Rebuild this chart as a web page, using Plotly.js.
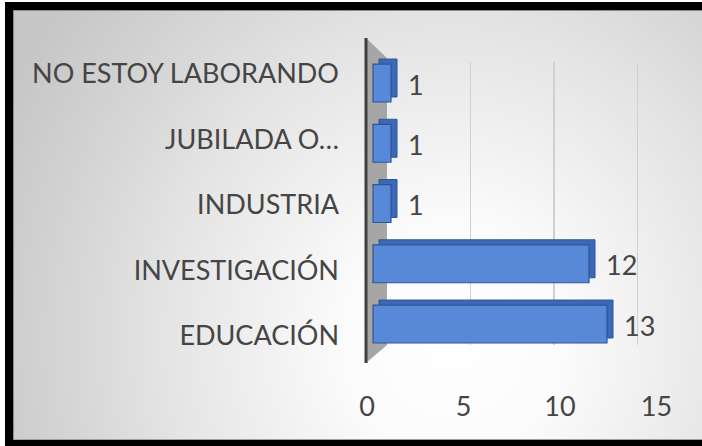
<!DOCTYPE html>
<html>
<head>
<meta charset="utf-8">
<script src="https://cdn.plot.ly/plotly-3.0.1.min.js"></script>
<style>
  html, body { margin: 0; padding: 0; background: #ffffff; overflow: hidden; }
  #frame {
    position: absolute; left: 5px; top: 2px; width: 720px; height: 446px;
    border: 8px solid #000000; box-sizing: border-box;
    background: radial-gradient(ellipse 500px 540px at 440px 330px, #ffffff 0%, #fbfbfb 22%, #e4e4e4 58%, #d2d2d2 82%, #c6c6c6 100%);
    box-shadow: inset 1px 1px 0 #8a8a8a, inset 0 -1px 0 #a0a0a0;
  }
  #chart { position: absolute; left: 0; top: 0; width: 702px; height: 446px; }
</style>
</head>
<body>
<div id="frame"></div>
<div id="chart"></div>
<script>
// ---- data ----
const categories = ['EDUCACIÓN', 'INVESTIGACIÓN', 'INDUSTRIA', 'JUBILADA O…', 'NO ESTOY LABORANDO'];
const values = [13, 12, 1, 1, 1];
const xTickValues = [0, 5, 10, 15];
const gridValues = [5, 10, 15];

const font = { family: 'Lato, "Open Sans", sans-serif', size: 27, color: '#454545', weight: 400 };
const hidden = { showgrid: false, zeroline: false, showline: false, showticklabels: false, ticks: '', fixedrange: true };

const depthTrace = {
  type: 'bar', orientation: 'h', x: values, y: categories,
  xaxis: 'x2', yaxis: 'y2', width: 0.63,
  marker: { color: '#3d68b5', line: { color: '#2f5597', width: 1 } },
  hoverinfo: 'skip', showlegend: false
};
const frontTrace = {
  type: 'bar', orientation: 'h', x: values, y: categories,
  xaxis: 'x3', yaxis: 'y3', width: 0.63,
  marker: { color: '#5888d8', line: { color: '#2f5597', width: 1.2 } },
  hoverinfo: 'skip', showlegend: false
};
const gridHolder = { type: 'scatter', mode: 'none', x: [], y: [], xaxis: 'x', yaxis: 'y', hoverinfo: 'skip', showlegend: false };
const labelHolder = { type: 'scatter', mode: 'none', x: [], y: [], xaxis: 'x4', yaxis: 'y', hoverinfo: 'skip', showlegend: false };

const annotations = categories.map((c, i) => ({
  x: values[i], y: c, xref: 'x3', yref: 'y3',
  text: String(values[i]), showarrow: false,
  xanchor: 'left', yanchor: 'middle', xshift: 15, yshift: -1,
  font: font
}));

const layout = {
  width: 702, height: 446, autosize: false,
  margin: { l: 360, r: 32, t: 38, b: 76, pad: 0 },
  paper_bgcolor: 'rgba(0,0,0,0)', plot_bgcolor: 'rgba(0,0,0,0)',
  font: font,
  showlegend: false,
  xaxis: Object.assign({}, hidden, {
    domain: [0, 1], anchor: 'y', range: [-1.617, 16.946],
    tickvals: gridValues, showgrid: true, gridcolor: '#d0d0d0', gridwidth: 1.2
  }),
  yaxis: Object.assign({}, hidden, {
    domain: [0.0753, 0.9277], anchor: 'x', range: [-0.137, 4.183],
    tickvals: [0, 1, 2, 3, 4], ticktext: categories, showticklabels: true,
    ticklabelstandoff: 20, tickfont: font
  }),
  xaxis2: Object.assign({}, hidden, { domain: [0, 1], anchor: 'y2', range: [-1.056, 16.167] }),
  yaxis2: Object.assign({}, hidden, { domain: [0, 1], anchor: 'x2', type: 'category', categoryorder: 'array', categoryarray: categories, range: [-0.846, 4.664] }),
  xaxis3: Object.assign({}, hidden, { domain: [0, 1], anchor: 'y3', range: [-0.722, 16.5] }),
  yaxis3: Object.assign({}, hidden, { domain: [0, 1], anchor: 'x3', type: 'category', categoryorder: 'array', categoryarray: categories, range: [-0.763, 4.747] }),
  xaxis4: Object.assign({}, hidden, {
    domain: [0, 1], anchor: 'y', range: [-0.363, 15.70],
    tickvals: xTickValues, showticklabels: true, ticklabelstandoff: 43, tickfont: font
  }),
  shapes: [
    { type: 'path', xref: 'paper', yref: 'paper', layer: 'below',
      path: 'M0.01935,1 L0.0871,0.9398 L0.0871,0.0753 L0.01935,0.0211 Z',
      fillcolor: '#a6a6a6', line: { width: 0 } },
    { type: 'line', xref: 'paper', yref: 'paper', layer: 'below',
      x0: 0.01935, x1: 0.01935, y0: 0.0211, y1: 1,
      line: { color: '#404040', width: 3 } }
  ],
  annotations: annotations
};

Plotly.newPlot('chart', [gridHolder, labelHolder, depthTrace, frontTrace], layout, { staticPlot: true, displayModeBar: false });
</script>
</body>
</html>
